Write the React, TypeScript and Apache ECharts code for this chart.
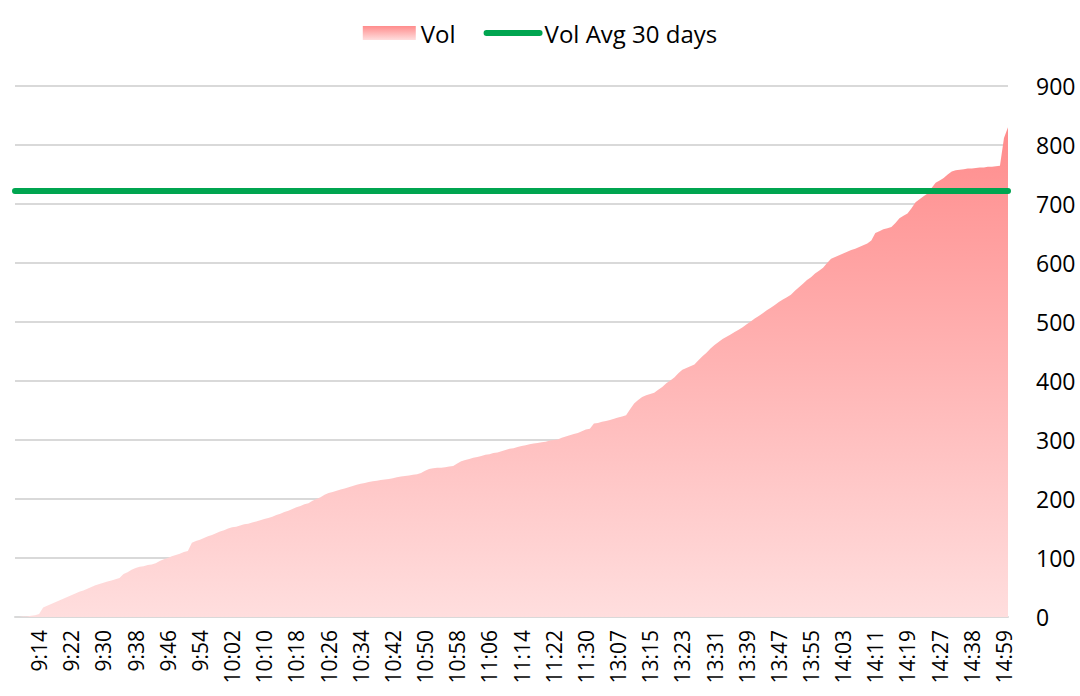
import React, { useEffect, useRef } from "react";
import * as echarts from "echarts";

// Trading minutes shown on the category axis
const morningStart = "9:08";
const morningEnd = "11:30";
const afternoonStart = "13:00";
const afternoonEnd = "14:27";
const lateTimes = [
  "14:28", "14:29", "14:31", "14:32", "14:33", "14:35", "14:36", "14:38",
  "14:40", "14:42", "14:44", "14:47", "14:50", "14:53", "14:56", "14:59",
  "15:00",
];

// Cumulative volume
const volValues = [
  0, 0, 1, 1, 2, 3, 5, 16, 19, 22,
  25, 28, 31, 34, 37, 40, 43, 45, 48, 51,
  54, 56, 58, 60, 62, 64, 66, 73, 76, 80,
  83, 85, 86, 88, 89, 91, 95, 98, 100, 103,
  105, 107, 110, 112, 126, 129, 131, 134, 137, 139,
  142, 145, 147, 150, 152, 153, 155, 157, 158, 160,
  162, 164, 166, 168, 170, 173, 175, 178, 180, 183,
  186, 188, 191, 193, 197, 200, 203, 207, 210, 212,
  214, 216, 218, 220, 222, 224, 226, 227, 229, 230,
  231, 232, 233, 234, 235, 237, 238, 239, 240, 241,
  242, 244, 248, 251, 252, 253, 253, 254, 255, 256,
  260, 264, 266, 268, 270, 271, 273, 275, 276, 278,
  279, 281, 283, 285, 286, 288, 290, 291, 293, 294,
  295, 296, 297, 299, 300, 301, 304, 306, 308, 310,
  312, 315, 318, 319, 328, 329, 331, 332, 334, 336,
  338, 340, 342, 352, 362, 368, 373, 376, 378, 380,
  385, 390, 396, 401, 406, 413, 419, 422, 425, 428,
  435, 442, 448, 455, 461, 466, 471, 475, 479, 483,
  487, 491, 496, 501, 506, 510, 515, 520, 524, 529,
  534, 538, 542, 546, 553, 559, 565, 571, 576, 582,
  587, 592, 600, 607, 610, 613, 616, 619, 622, 624,
  627, 630, 633, 638, 651, 654, 657, 659, 661, 668,
  676, 680, 684, 693, 703, 708, 713, 718, 727, 736,
  740, 744, 750, 755, 757, 758, 759, 760, 760, 761,
  762, 762, 763, 763, 764, 765, 812, 830,
];

const avg30Days = 722;

const yMin = 0;
const yMax = 900;
const yInterval = 100;

// first labelled category and label step
const firstLabelIndex = 6;
const labelStep = 8;

function toMin(t: string): number {
  const [h, m] = t.split(":").map(Number);
  return h * 60 + m;
}
function fmt(mins: number): string {
  const h = Math.floor(mins / 60);
  const m = mins % 60;
  return `${h}:${m < 10 ? "0" + m : m}`;
}
function minuteRange(a: string, b: string): string[] {
  const out: string[] = [];
  for (let t = toMin(a); t <= toMin(b); t++) out.push(fmt(t));
  return out;
}

const categories = [
  ...minuteRange(morningStart, morningEnd),
  ...minuteRange(afternoonStart, afternoonEnd),
  ...lateTimes,
];

export default function App() {
  const ref = useRef<HTMLDivElement>(null);
  useEffect(() => {
    document.body.style.margin = "0";
    if (!ref.current) return;
    const chart = echarts.init(ref.current, undefined, { renderer: "svg" });
    const grad = new echarts.graphic.LinearGradient(0, 0, 0, 1, [
      { offset: 0, color: "#FF8C8C" },
      { offset: 1, color: "#FFDEDE" },
    ]);
    const font = "'Open Sans', sans-serif";
    chart.setOption({
      animation: false,
      backgroundColor: "#ffffff",
      legend: {
        top: 16,
        left: "center",
        itemGap: 28,
        itemWidth: 53,
        itemHeight: 14,
        textStyle: { fontFamily: font, fontSize: 24, color: "#000" },
        data: [
          { name: "Vol", icon: "rect" },
          {
            name: "Vol Avg 30 days",
            itemStyle: { opacity: 0 },
            lineStyle: { width: 6, cap: "round", color: "#00A550", opacity: 1 },
          },
        ],
      },
      grid: { left: 15, right: 72, top: 86, bottom: 79 },
      xAxis: {
        type: "category",
        data: categories,
        boundaryGap: false,
        axisLine: { show: true, lineStyle: { color: "#d9d9d9", width: 2 } },
        axisTick: { show: false },
        splitLine: { show: false },
        axisLabel: {
          rotate: 90,
          margin: 13,
          interval: (i: number) => i >= firstLabelIndex && (i - firstLabelIndex) % labelStep === 0,
          fontFamily: font,
          fontSize: 21,
          color: "#000",
        },
      },
      yAxis: {
        type: "value",
        position: "right",
        min: yMin,
        max: yMax,
        interval: yInterval,
        axisLine: { show: false },
        axisTick: { show: false },
        splitLine: { lineStyle: { color: "#d9d9d9", width: 2 } },
        axisLabel: { margin: 28, fontFamily: font, fontSize: 23, color: "#000" },
      },
      series: [
        {
          name: "Vol",
          type: "line",
          data: volValues,
          symbol: "none",
          lineStyle: { width: 0 },
          itemStyle: { color: grad },
          areaStyle: { color: grad, opacity: 1 },
          z: 2,
        },
        {
          name: "Vol Avg 30 days",
          type: "line",
          data: categories.map(() => avg30Days),
          symbol: "none",
          itemStyle: { color: "#00A550" },
          lineStyle: { color: "#00A550", width: 6, cap: "round" },
          z: 3,
        },
      ],
    });
    return () => chart.dispose();
  }, []);
  return <div ref={ref} style={{ width: 1080, height: 696 }} />;
}
